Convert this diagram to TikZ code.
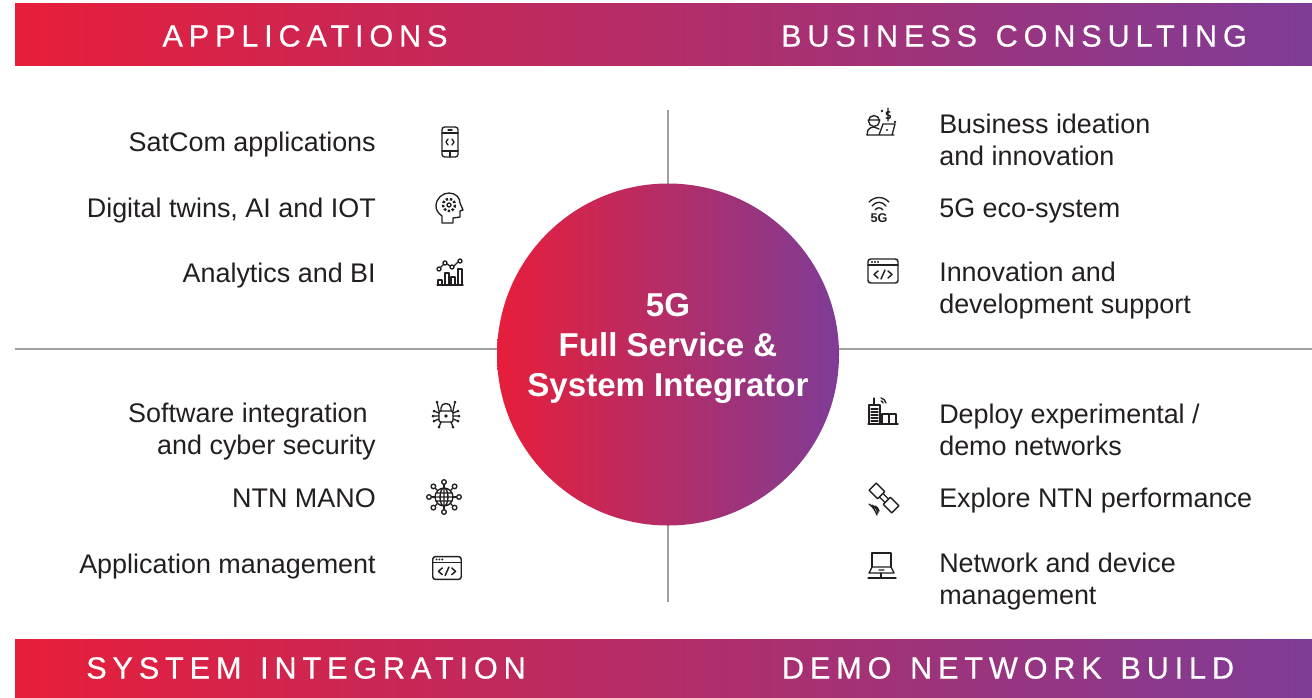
\documentclass[tikz,border=0pt]{standalone}
\usepackage{fontspec}
\setmainfont{Liberation Sans}
\newfontfamily\bandfont[LetterSpace=19,WordSpace=1.3,FakeBold=0.5]{Liberation Sans}
\usetikzlibrary{shadings}

\definecolor{bandred}{RGB}{231,30,58}
\definecolor{bandmid}{RGB}{157,50,104}
\definecolor{bandpurple}{RGB}{127,60,150}
\definecolor{ink}{RGB}{35,31,32}
\definecolor{rulegray}{RGB}{160,160,160}

\tikzset{
    band/.style={left color=bandred, middle color=bandmid, right color=bandpurple, draw=none},
    bandtitle/.style={text=white, font=\bandfont\fontsize{23}{23}\selectfont, inner sep=0pt},
    itemleft/.style={anchor=east, align=right, text=ink, font=\fontsize{20.2}{24}\selectfont, inner sep=0pt},
    itemright/.style={anchor=west, align=left, text=ink, font=\fontsize{20.2}{24}\selectfont, inner sep=0pt},
    icon/.style={draw=ink, line width=1pt, line cap=round, line join=round},
    pics/phoneicon/.style={code={
        \draw[icon, rounded corners=2pt] (-8,-15) rectangle (8,15);
        \draw[icon] (-8,-9) -- (8,-9) (-8,9) -- (8,9) (-2,-12) -- (2,-12) (0,9) -- (0,15);
        \draw[icon] (-2,-3) -- (-4,0) -- (-2,3) (2,-3) -- (4,0) -- (2,3);
    }},
    pics/headicon/.style={code={
        \draw[icon] (-8,15) -- (-8,8) .. controls (-12,5) and (-14,2) .. (-14,-2)
            .. controls (-14,-10) and (-7,-15) .. (-1,-15)
            .. controls (6,-15) and (10,-10) .. (10,-5) -- (13,2) -- (10,3) -- (10,9) -- (3,10) -- (3,15) -- cycle;
        \draw[icon] (-1,-3) circle (2);
        \draw[icon, line width=1.8pt, dash pattern=on 1.8pt off 1.3pt, line cap=butt] (-1,-3) circle (6);
    }},
    pics/charticon/.style={code={
        \draw[icon] (-13,13) -- (13,13);
        \draw[icon] (-12,13) -- (-12,8) -- (-8,8) -- (-8,13) (-5,13) -- (-5,1) -- (-1,1) -- (-1,13)
            (1,13) -- (1,5) -- (5,5) -- (5,13) (8,13) -- (8,-3) -- (12,-3) -- (12,13);
        \draw[icon] (-11,-3) circle (2) (-5,-9) circle (2) (2,-5) circle (2) (10,-11) circle (2);
        \draw[icon] (-9.5,-4.5) -- (-6.5,-7.5) (-3,-8) -- (0,-6) (4,-6) -- (8,-10);
    }},
    pics/bizicon/.style={code={
        \draw[icon] (-7,-2) circle (5.5) (-13,-3) -- (-1,-3);
        \draw[icon] (-14,12) -- (-13,7) .. controls (-12,5) and (-9,4) .. (-7,4) -- (-2,6);
        \draw[icon] (2,1) -- (14,1) -- (11,12) -- (-2,12) -- cycle (-14,12) -- (13,12);
        \fill[ink] (6,7) circle (1.2);
        \draw[icon] (9,-11) .. controls (5,-13) and (4,-8) .. (7,-8) .. controls (11,-8) and (10,-3) .. (5,-5) (7,-15) -- (7,-2);
        \fill[ink] (1,-12) circle (1.4) (14,-1) circle (1.4);
    }},
    pics/wifiicon/.style={code={
        \draw[icon] (-10,-8) .. controls (-4,-14) and (4,-14) .. (10,-8)
            (-7,-4) .. controls (-3,-9) and (3,-9) .. (7,-4)
            (-4,0) .. controls (-2,-3) and (2,-3) .. (4,0);
        \node[text=ink, font=\bfseries\fontsize{9.5}{10}\selectfont, inner sep=0pt] (fiveg) at (0,8) {5G};
    }},
    pics/codeicon/.style={code={
        \draw[icon, line width=1.1pt, rounded corners=2pt] (-15,-12) rectangle (15,12);
        \draw[icon] (-15,-6) -- (15,-6);
        \fill[ink] (-11,-9) circle (1.1) (-8,-9) circle (1.1) (-5,-9) circle (1.1);
        \draw[icon, line width=1.1pt] (-5,0) -- (-9,3.5) -- (-5,7) (5,0) -- (9,3.5) -- (5,7) (2,-1) -- (-2,8);
    }},
    pics/lockicon/.style={code={
        \draw[icon, rounded corners=1pt] (-7,-3) rectangle (7,8);
        \draw[icon] (-5,-3) -- (-5,-6) .. controls (-5,-12) and (5,-12) .. (5,-6) -- (5,-3);
        \fill[ink] (0,2) circle (1.8);
        \draw[icon] (-7,-1) -- (-12,-3) (-7,2) -- (-13,2) (-7,5) -- (-12,7)
            (7,-1) -- (12,-3) (7,2) -- (13,2) (7,5) -- (12,7)
            (-7,-3) -- (-9,-12) (7,-3) -- (9,-12) (-5,8) -- (-7,13) (5,8) -- (7,13);
        \fill[ink] (-12,-3) circle (1.5) (-13,2) circle (1.5) (-12,7) circle (1.5)
            (12,-3) circle (1.5) (13,2) circle (1.5) (12,7) circle (1.5)
            (-9,-12) circle (1.5) (9,-12) circle (1.5) (-7,13) circle (1.5) (7,13) circle (1.5);
    }},
    pics/globeicon/.style={code={
        \draw[icon] (0,0) circle (9) (0,0) ellipse (4 and 9) (0,-9) -- (0,9) (-9,0) -- (9,0)
            (-8,-4) -- (8,-4) (-8,4) -- (8,4);
        \foreach \ang in {0,45,...,315}{
            \draw[icon, fill=white] (\ang:9) -- (\ang:13);
            \draw[icon, fill=white] (\ang:15) circle (2.3);
        }
    }},
    pics/cityicon/.style={code={
        \draw[icon] (-15,9) -- (15,9);
        \draw[icon] (-14,9) -- (-14,-10) -- (-3,-10) -- (-3,9) (-9,-10) -- (-9,-17);
        \draw[icon] (-12,-6) -- (-5,-6) (-12,-3) -- (-5,-3) (-12,0) -- (-5,0) (-12,3) -- (-5,3) (-12,6) -- (-5,6);
        \draw[icon] (-1,9) -- (-1,-1) -- (6,-1) -- (6,9) (6,-1) -- (13,-1) -- (13,9);
        \draw[icon] (-2,-17) .. controls (1,-16) and (2,-15) .. (3,-12)
            (-2,-14) .. controls (-1,-14) and (0,-13) .. (0,-12);
    }},
    pics/saticon/.style={code={
        \begin{scope}[rotate=-45]
            \draw[icon] (-16,-5) rectangle (-4,5) (4,-5) rectangle (16,5) (-4,-2.5) rectangle (4,2.5);
        \end{scope}
        \draw[icon] (-9,8) .. controls (-7,9) and (-6,10) .. (-5,13)
            (-12,7) .. controls (-9,9) and (-7,11) .. (-6,15)
            (-15,6) .. controls (-11,9) and (-9,12) .. (-7,17);
    }},
    pics/laptopicon/.style={code={
        \draw[icon] (-9,1) -- (-9,-13) -- (10,-13) -- (10,1);
        \draw[icon] (-9,1) -- (-12,7) -- (13,7) -- (10,1) -- cycle (-2,4) -- (3,4);
        \draw[icon] (0,7) -- (0,12) (-13,12) -- (15,12);
    }},
}

\begin{document}
\begin{tikzpicture}[x=0.75pt,y=-0.75pt]
    \useasboundingbox (0,0) rectangle (1312,697);

    % Rules
    \coordinate (RuleW) at (15,349);
    \coordinate (RuleE) at (1312,349);
    \coordinate (RuleN) at (668,110);
    \coordinate (RuleS) at (668,602);
    \draw[rulegray, line width=1.1pt] (RuleW) -- (RuleE);
    \draw[rulegray, line width=1.1pt] (RuleN) -- (RuleS);

    % Bands
    \fill[band] (15,3) rectangle (1312,65.5);
    \fill[band] (15,639) rectangle (1312,697);
    \node[bandtitle] (applications) at (305,36) {APPLICATIONS};
    \node[bandtitle] (consulting) at (1014,36) {BUSINESS CONSULTING};
    \node[bandtitle] (integration) at (306,668) {SYSTEM INTEGRATION};
    \node[bandtitle] (demobuild) at (1008,668) {DEMO NETWORK BUILD};

    % Center
    \node[band, circle, minimum size=256.5pt, inner sep=0pt] (hub) at (668,354.5) {};
    \node[text=white, font=\bfseries\fontsize{24.8}{30}\selectfont, align=center, inner sep=0pt] (hubtext) at (668,348)
        {5G\\Full Service \&\\System Integrator};

    % Left items
    \node[itemleft] (satcom) at (376,145) {SatCom applications};
    \node[itemleft] (twins) at (376,211) {Digital twins, AI and IOT};
    \node[itemleft] (analytics) at (376,276) {Analytics and BI};
    \node[itemleft] (software) at (376,432) {Software integration\hspace*{6pt}\\and cyber security};
    \node[itemleft] (mano) at (376,498) {NTN MANO};
    \node[itemleft] (appmgmt) at (376,567) {Application management};

    % Right items
    \node[itemright] (ideation) at (939,140) {Business ideation\\and innovation};
    \node[itemright] (ecosystem) at (939,211) {5G eco-system};
    \node[itemright] (support) at (939,291) {Innovation and\\development support};
    \node[itemright] (deploy) at (939,430) {Deploy experimental /\\demo networks};
    \node[itemright] (explore) at (939,501) {Explore NTN performance};
    \node[itemright] (devmgmt) at (939,582) {Network and device\\management};

    % Icons
    \pic at (450,142) {phoneicon};
    \pic at (450,208) {headicon};
    \pic at (450,272) {charticon};
    \pic at (446,414) {lockicon};
    \pic at (444,497) {globeicon};
    \pic[scale=0.95] at (447,568) {codeicon};
    \pic at (881,123) {bizicon};
    \pic at (879,210) {wifiicon};
    \pic at (883,271) {codeicon};
    \pic at (883,415) {cityicon};
    \pic at (884,498) {saticon};
    \pic at (881,566) {laptopicon};
\end{tikzpicture}
\end{document}
